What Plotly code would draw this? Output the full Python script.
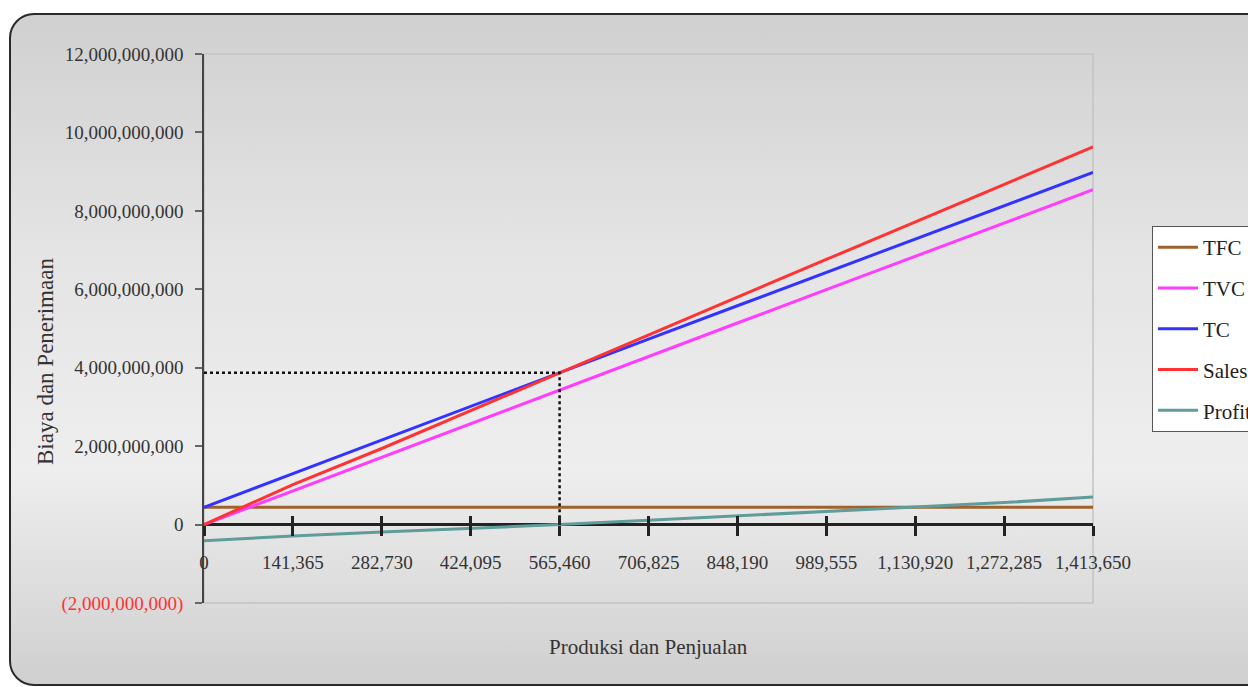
import base64
import plotly.graph_objects as go

# ---------------- data ----------------
quantity = [0, 141365, 282730, 424095, 565460, 706825, 848190, 989555, 1130920, 1272285, 1413650]
quantity_labels = ["0", "141,365", "282,730", "424,095", "565,460", "706,825", "848,190",
                   "989,555", "1,130,920", "1,272,285", "1,413,650"]

tfc = [440e6, 440e6, 440e6, 440e6, 440e6, 440e6, 440e6, 440e6, 440e6, 440e6, 440e6]
tvc = [0, 0.86e9, 1.72e9, 2.58e9, 3.44e9, 4.29e9, 5.14e9, 5.99e9, 6.84e9, 7.69e9, 8.54e9]
tc = [0.44e9, 1.30e9, 2.16e9, 3.02e9, 3.88e9, 4.73e9, 5.58e9, 6.43e9, 7.28e9, 8.13e9, 8.98e9]
sales = [0, 1.02e9, 1.94e9, 2.91e9, 3.88e9, 4.84e9, 5.80e9, 6.76e9, 7.72e9, 8.68e9, 9.63e9]
profit = [-0.41e9, -0.29e9, -0.19e9, -0.10e9, 0.0, 0.11e9, 0.22e9, 0.33e9, 0.44e9, 0.56e9, 0.70e9]

bep_quantity = 565460
bep_value = 3.87e9

y_tickvals = [-2e9, 0, 2e9, 4e9, 6e9, 8e9, 10e9, 12e9]
y_ticktext = ['<span style="color:#ff3333">(2,000,000,000)</span>', "0", "2,000,000,000",
              "4,000,000,000", "6,000,000,000", "8,000,000,000", "10,000,000,000",
              "12,000,000,000"]

series = [
    ("TFC", tfc, "#a0622d"),
    ("TVC", tvc, "#ff3cff"),
    ("TC", tc, "#3333ff"),
    ("Sales", sales, "#ff3333"),
    ("Profit", profit, "#5f9c9a"),
]

# ---------------- layout geometry (pixels) ----------------
W, H = 1248, 687
L, R, T, B = 204, 1093, 54, 603
pw, ph = R - L, B - T


def px_x(p):
    return (p - L) / pw


def px_y(p):
    return (B - p) / ph


FONT = "Liberation Serif"

fig = go.Figure()

# break-even guide (dotted)
fig.add_trace(go.Scatter(
    x=[0, bep_quantity, bep_quantity], y=[bep_value, bep_value, 0],
    mode="lines", line=dict(color="#111111", width=2.5, dash="dot"),
    showlegend=False, hoverinfo="skip", xaxis="x2"))

for name, vals, color in series:
    fig.add_trace(go.Scatter(
        x=quantity, y=vals, name=name, mode="lines",
        line=dict(color=color, width=3), legendgroup=name))

# background: rounded panel with vertical gradient
svg = (
    "<svg xmlns='http://www.w3.org/2000/svg' width='1248' height='687' viewBox='0 0 1248 687' "
    "preserveAspectRatio='none'><defs><linearGradient id='g' x1='0' y1='0' x2='0' y2='1'>"
    "<stop offset='0' stop-color='#d0d0d0'/><stop offset='0.35' stop-color='#e4e4e4'/>"
    "<stop offset='0.68' stop-color='#eeeeee'/><stop offset='1' stop-color='#cfcfcf'/>"
    "</linearGradient></defs>"
    "<rect x='10' y='14' width='1270' height='671' rx='24' ry='24' fill='url(#g)' "
    "stroke='#2a2a2a' stroke-width='2'/></svg>"
)
src = "data:image/svg+xml;base64," + base64.b64encode(svg.encode()).decode()
fig.add_layout_image(dict(
    source=src, xref="paper", yref="paper",
    x=px_x(0), y=px_y(0), sizex=W / pw, sizey=H / ph,
    xanchor="left", yanchor="top", sizing="stretch", layer="below"))

# plot-area light frame
fig.add_shape(type="rect", xref="paper", yref="paper", x0=0, x1=1, y0=0, y1=1,
              line=dict(color="#c4c4c4", width=1.5), layer="below")

zero_pos = 2 / 14

fig.update_layout(
    width=W, height=H,
    margin=dict(l=L, r=W - R, t=T, b=H - B, autoexpand=False),
    paper_bgcolor="white", plot_bgcolor="#fdfdfd",
    font=dict(family=FONT, size=19, color="#333333"),
    xaxis=dict(
        range=[0, quantity[-1]], tickvals=quantity, ticktext=quantity_labels,
        anchor="free", position=zero_pos, showline=False, showgrid=False, zeroline=False,
        ticks="outside", ticklen=10, tickwidth=3, tickcolor="#222222",
        ticklabelstandoff=11, tickfont=dict(family=FONT, size=19, color="#333333")),
    xaxis2=dict(
        matches="x", overlaying="x", anchor="free", position=zero_pos,
        showline=False, showgrid=False, zeroline=False, showticklabels=False,
        tickvals=quantity, ticks="inside", ticklen=9, tickwidth=3, tickcolor="#222222"),
    yaxis=dict(
        range=[-2e9, 12e9], tickvals=y_tickvals, ticktext=y_ticktext,
        showgrid=False, showline=True, linecolor="#444444", linewidth=1.5,
        zeroline=True, zerolinecolor="#222222", zerolinewidth=3,
        ticks="outside", ticklen=7, tickcolor="#666666", tickwidth=1.5,
        ticklabelstandoff=8, tickfont=dict(family=FONT, size=19, color="#333333")),
    legend=dict(
        x=px_x(1152), y=px_y(226), xanchor="left", yanchor="top",
        bgcolor="white", bordercolor="#555555", borderwidth=1,
        font=dict(family=FONT, size=21, color="#222222"),
        tracegroupgap=10.5, itemwidth=40),
    annotations=[
        dict(text="Biaya dan Penerimaan", xref="paper", yref="paper",
             x=px_x(45), y=px_y(362), xanchor="center", yanchor="middle",
             showarrow=False, textangle=-90,
             font=dict(family=FONT, size=23, color="#333333")),
        dict(text="Produksi dan Penjualan", xref="paper", yref="paper",
             x=px_x(648), y=px_y(647), xanchor="center", yanchor="middle",
             showarrow=False,
             font=dict(family=FONT, size=21, color="#333333")),
    ],
)

fig.write_html("out.html")
